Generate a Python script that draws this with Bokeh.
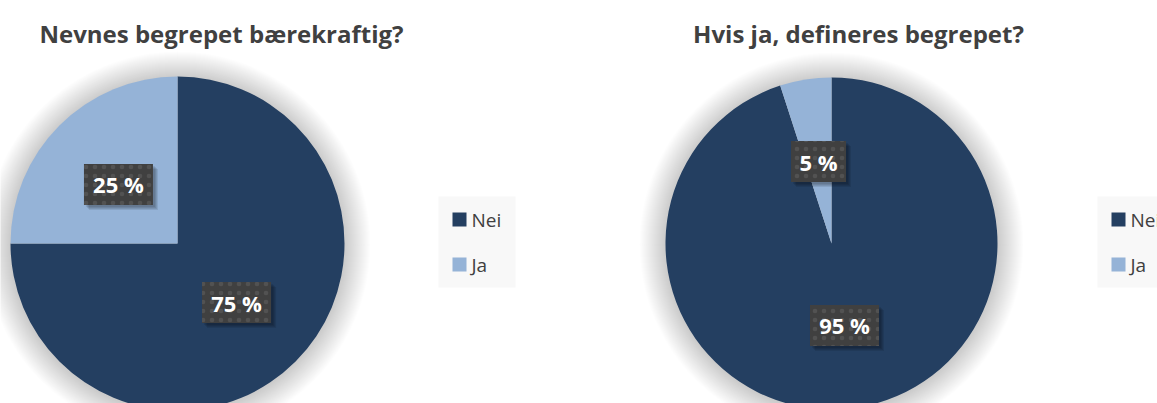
import numpy as np
from bokeh.plotting import figure
from bokeh.models import Range1d
from bokeh.core.properties import value
from bokeh.embed import file_html
from bokeh.resources import INLINE

# ---- data ----
titles = ["Nevnes begrepet bærekraftig?", "Hvis ja, defineres begrepet?"]
categories = ["Nei", "Ja"]
chart1_values = [75, 25]
chart2_values = [95, 5]
colors = ["#243f61", "#95b3d7"]

W, H = 1157, 403
FONT = value("Open Sans")

p = figure(width=W, height=H, x_range=Range1d(0, W), y_range=Range1d(0, H),
           output_backend="svg", toolbar_location=None, min_border=0)
p.axis.visible = False
p.grid.visible = False
p.outline_line_color = None
p.background_fill_color = "white"
p.border_fill_color = "white"


def Y(py):
    return H - py


charts = [
    dict(title=titles[0], values=chart1_values, cx=177, cy=243, r=167,
         tx=221, leg_x=438, leg_w=77),
    dict(title=titles[1], values=chart2_values, cx=831, cy=243, r=166,
         tx=858, leg_x=1097, leg_w=77),
]

for c in charts:
    cx, cy, r = c["cx"], Y(c["cy"]), c["r"]
    # title
    p.text(x=[c["tx"]], y=[Y(33)], text=[c["title"]], text_font=FONT,
           text_font_style="bold", text_font_size="24px", text_color="#404040",
           text_align="center", text_baseline="alphabetic")
    # soft shadow around pie
    for k in range(26):
        p.circle(x=[cx], y=[cy - 1], radius=r + 1 + k * 1.0, fill_color="#000000",
                 fill_alpha=0.0062, line_color=None)
    vals = np.array(c["values"], dtype=float)
    fr = vals / vals.sum()
    cum = np.concatenate([[0], np.cumsum(fr)])
    starts = np.deg2rad(90 - cum[:-1] * 360)
    ends = np.deg2rad(90 - cum[1:] * 360)
    p.wedge(x=cx, y=cy, radius=r, start_angle=starts, end_angle=ends,
            direction="clock", fill_color=colors, line_color=None)
    # labels
    mids = np.deg2rad(90 - (cum[:-1] + fr / 2) * 360)
    lx = cx + 0.5 * r * np.cos(mids)
    ly = cy + 0.5 * r * np.sin(mids)
    labels = [f"{int(v)} %" for v in vals]
    widths = [14 * len(s) + 13 for s in labels]
    for k in range(4):
        p.rect(x=lx + 2 + k, y=ly - 2 - k, width=widths, height=41,
               fill_color="#000000", fill_alpha=0.09, line_color=None)
    p.rect(x=lx, y=ly, width=widths, height=41, fill_color="#404040",
           line_color=None, hatch_pattern="dot", hatch_color="#525252",
           hatch_scale=9, hatch_weight=2.2)
    p.text(x=lx, y=ly, text=labels, text_font=FONT, text_font_style="bold",
           text_font_size="22px", text_color="white", text_align="center",
           text_baseline="middle")
    # legend
    lgx = c["leg_x"]
    p.rect(x=[lgx + c["leg_w"] / 2], y=[Y(241.5)], width=c["leg_w"], height=91,
           fill_color="#f8f8f8", line_color=None)
    sq_y = [Y(219), Y(264)]
    p.rect(x=[lgx + 21] * 2, y=sq_y, width=14, height=14, fill_color=colors,
           line_color=None)
    p.text(x=[lgx + 33] * 2, y=sq_y, text=categories, text_font=FONT,
           text_font_size="19px", text_color="#404040", text_align="left",
           text_baseline="middle")

open("out.html", "w").write(file_html(p, INLINE))
